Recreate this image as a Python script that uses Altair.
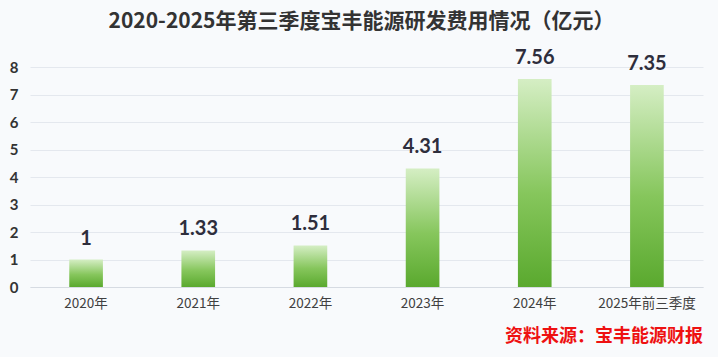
import altair as alt
import pandas as pd

categories = ["2020年", "2021年", "2022年", "2023年", "2024年", "2025年前三季度"]
values = [1, 1.33, 1.51, 4.31, 7.56, 7.35]
labels = ["1", "1.33", "1.51", "4.31", "7.56", "7.35"]
y_ticks = [0, 1, 2, 3, 4, 5, 6, 7, 8]

df = pd.DataFrame({"cat": categories, "val": values, "lab": labels})

x_enc = alt.X("cat:N", sort=categories, title=None,
              scale=alt.Scale(paddingInner=0.7, paddingOuter=0.35),
              axis=alt.Axis(labelAngle=0, labelFontSize=13.5, labelColor="#404040",
                            labelFont="Noto Sans CJK SC", labelPadding=9,
                            ticks=False, domainColor="#d6dbe2", grid=False))
y_enc = alt.Y("val:Q", title=None,
              scale=alt.Scale(domain=[0, 8], nice=False),
              axis=alt.Axis(values=y_ticks, labelFontSize=15, labelFontWeight="bold",
                            labelColor="#333333", labelFont="Lato", labelPadding=12,
                            labelOverlap=False, ticks=False, domain=False,
                            gridColor="#e4e8ee"))

bars = alt.Chart(df).mark_bar(
    color=alt.Gradient(
        gradient="linear",
        stops=[alt.GradientStop(color="#d5eec4", offset=0),
               alt.GradientStop(color="#86c65c", offset=0.55),
               alt.GradientStop(color="#5aa92e", offset=1)],
        x1=1, x2=1, y1=0, y2=1,
    )
).encode(x=x_enc, y=y_enc)

texts = alt.Chart(df).mark_text(
    fontSize=20, fontWeight="bold", color="#2e2e3c", font="Lato",
    baseline="alphabetic", dy=-15
).encode(x=x_enc, y=y_enc, text="lab:N")

source = alt.Chart(pd.DataFrame({"t": ["资料来源：宝丰能源财报"]})).mark_text(
    fontSize=18, fontWeight="bold", color="#ee1111", font="Noto Sans CJK SC",
    align="right", baseline="middle"
).encode(x=alt.value(673), y=alt.value(270), text="t:N")

chart = alt.layer(bars, texts, source).properties(
    width=673, height=220,
    title=alt.Title("2020-2025年第三季度宝丰能源研发费用情况（亿元）",
                    fontSize=21, fontWeight="bold", color="#333333",
                    font="Noto Sans CJK SC", anchor="middle", offset=16,
                    dx=-5),
    autosize=alt.AutoSizeParams(type="none"),
    padding={"left": 30, "top": 67, "right": 15, "bottom": 70},
    background="#f8fafc",
).configure_view(stroke=None)

chart.save("out.html", embed_options={"renderer": "svg", "actions": False})
